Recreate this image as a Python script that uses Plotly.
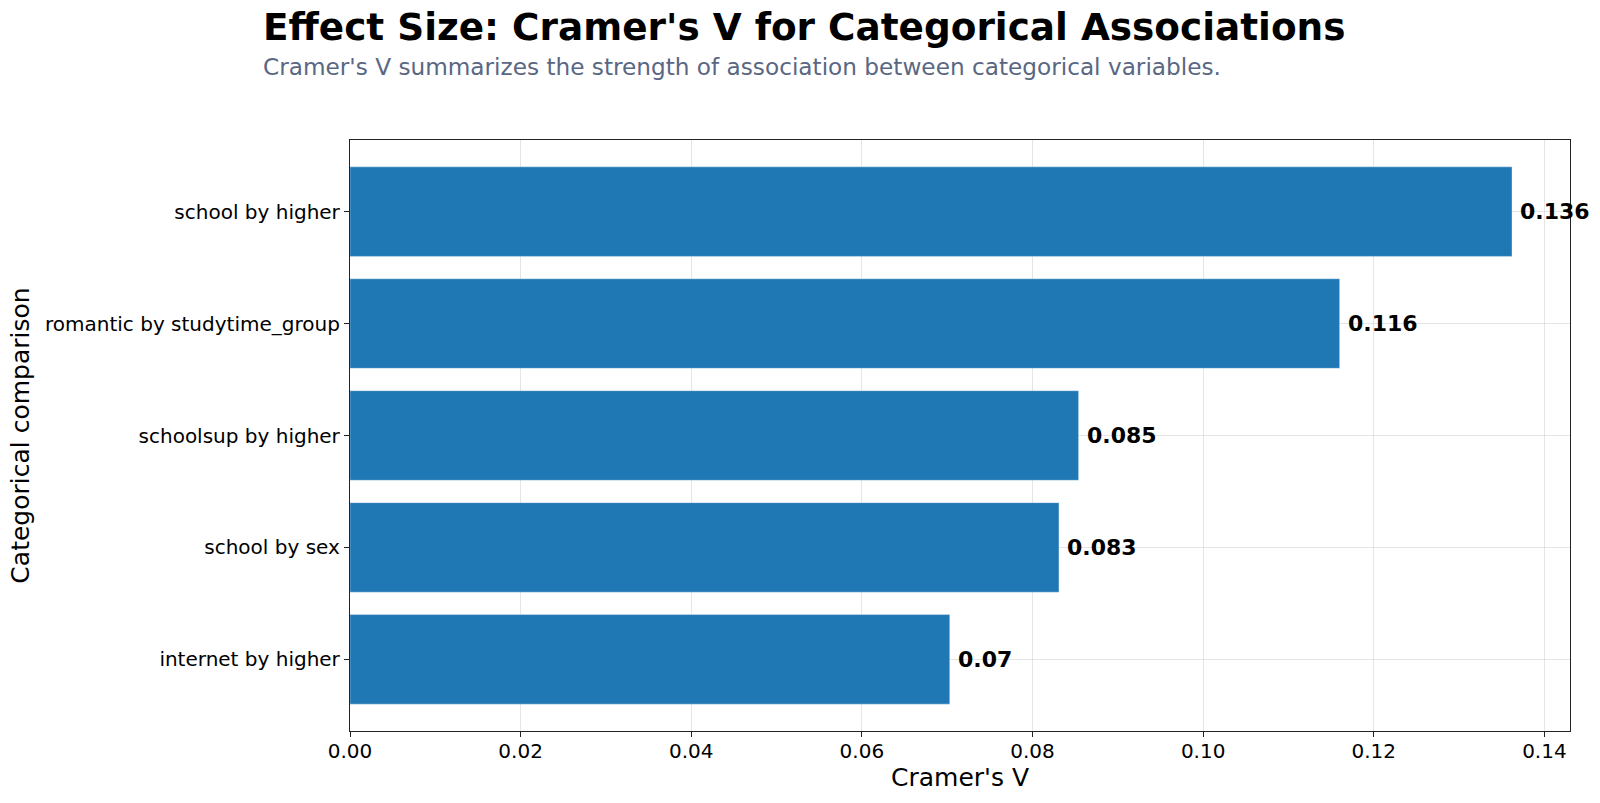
import plotly.graph_objects as go

categories = ["internet by higher", "school by sex", "schoolsup by higher",
              "romantic by studytime_group", "school by higher"]
values = [0.0703, 0.0831, 0.0854, 0.1160, 0.1362]
labels = ["0.07", "0.083", "0.085", "0.116", "0.136"]
x_ticks = [0.00, 0.02, 0.04, 0.06, 0.08, 0.10, 0.12, 0.14]
x_tick_text = ["0.00", "0.02", "0.04", "0.06", "0.08", "0.10", "0.12", "0.14"]

FONT = "DejaVu Sans"
W, H = 1600, 803
L, R, T, B = 350, 30, 140, 72

fig = go.Figure()
fig.add_trace(go.Bar(
    x=values, y=categories, orientation="h", width=0.8,
    marker=dict(color="#1f77b4", line=dict(color="rgba(255,255,255,0.35)", width=1)),
    hoverinfo="x+y",
))

for v, c, t in zip(values, categories, labels):
    fig.add_annotation(x=v, y=c, text=f"<b>{t}</b>", showarrow=False,
                       xanchor="left", yanchor="middle", xshift=6,
                       font=dict(family=FONT, size=22, color="black"))

fig.add_annotation(xref="paper", yref="paper",
                   x=(261 - L) / (W - L - R), y=1 + (T - 67) / (H - T - B),
                   text="Cramer's V summarizes the strength of association between categorical variables.",
                   showarrow=False, xanchor="left", yanchor="middle",
                   font=dict(family=FONT, size=23.2, color="#5a6783"))

fig.update_layout(
    width=W, height=H,
    margin=dict(l=L, r=R, t=T, b=B, pad=0),
    paper_bgcolor="white", plot_bgcolor="white",
    showlegend=False,
    title=dict(text="<b>Effect Size: Cramer's V for Categorical Associations</b>",
               x=263 / W, xref="container", xanchor="left",
               y=1 - 27 / H, yref="container", yanchor="middle",
               font=dict(family=FONT, size=37.4, color="black")),
    font=dict(family=FONT, color="black"),
    xaxis=dict(range=[0, 0.1430], tickvals=x_ticks, ticktext=x_tick_text,
               showgrid=True, gridcolor="rgba(190,190,190,0.4)", gridwidth=1,
               zeroline=False, showline=True, linecolor="#222", linewidth=1.3,
               mirror=True, ticks="outside", ticklen=5, tickcolor="#222",
               ticklabelstandoff=-3,
               tickfont=dict(family=FONT, size=20), layer="above traces",
               title=dict(text="Cramer's V", font=dict(family=FONT, size=25), standoff=6)),
    yaxis=dict(range=[-0.64, 4.64], categoryorder="array", categoryarray=categories,
               showgrid=True, gridcolor="rgba(190,190,190,0.4)", gridwidth=1,
               zeroline=False, showline=True, linecolor="#222", linewidth=1.3,
               mirror=True, ticks="outside", ticklen=5, tickcolor="#222",
               tickfont=dict(family=FONT, size=20), layer="above traces",
               title=dict(text="Categorical comparison", font=dict(family=FONT, size=25), standoff=8)),
)

fig.write_html("out.html")
